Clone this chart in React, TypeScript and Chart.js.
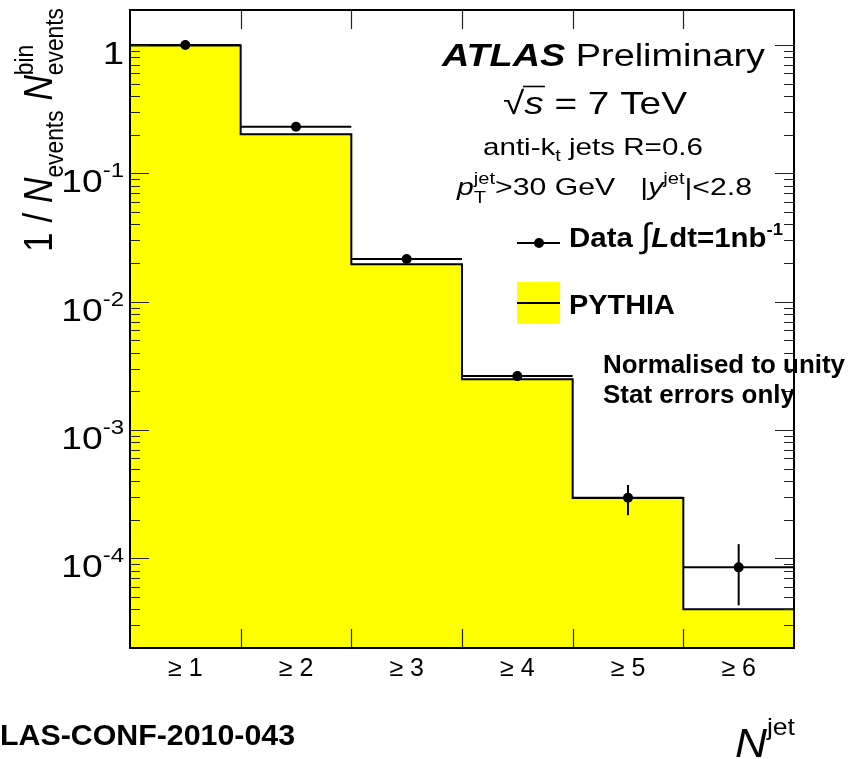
import React, { useEffect, useRef } from "react";
import { Chart, registerables } from "chart.js";

Chart.register(...registerables);

// ---------- data ----------
const categories = ["≥ 1", "≥ 2", "≥ 3", "≥ 4", "≥ 5", "≥ 6"];
const binEdges = [0, 1, 2, 3, 4, 5, 6];
const pythiaValues = [0.99, 0.202, 0.0196, 0.00249, 2.95e-4, 4.0e-5];
const dataValues = [1.0, 0.231, 0.0215, 0.00263, 2.96e-4, 8.5e-5];
const dataErrUp = [0.004, 0.003, 0.0006, 0.00015, 0.76e-4, 4.4e-5];
const dataErrDown = [0.004, 0.003, 0.0006, 0.00015, 0.79e-4, 4.2e-5];
const yMin = 2e-5;
const yMax = 1.875;
const yDecades = [0, -1, -2, -3, -4];

const FAMILY = '"Liberation Sans", Arial, Helvetica, sans-serif';
const YELLOW = "#ffff00";

type Seg = {
  t: string;
  size: number;
  bold?: boolean;
  italic?: boolean;
  dy?: number;
  adv?: boolean;
  over?: boolean;
};

function fontOf(s: Seg) {
  return `${s.italic ? "italic " : ""}${s.bold ? "bold " : ""}${s.size}px ${FAMILY}`;
}

function drawRich(
  ctx: CanvasRenderingContext2D,
  segs: Seg[],
  x: number,
  y: number,
  o: { width?: number; sx?: number; sy?: number; rot?: boolean; align?: string } = {}
) {
  ctx.save();
  ctx.translate(x, y);
  if (o.rot) ctx.rotate(-Math.PI / 2);
  const widths: number[] = [];
  let w = 0;
  let pend = 0;
  for (const s of segs) {
    ctx.font = fontOf(s);
    const m = ctx.measureText(s.t).width;
    widths.push(m);
    if (s.adv === false) pend = Math.max(pend, m);
    else {
      w += Math.max(m, pend);
      pend = 0;
    }
  }
  const sx = o.width ? o.width / w : o.sx ?? 1;
  ctx.scale(sx, o.sy ?? 1);
  let cx = o.align === "right" ? -w : o.align === "center" ? -w / 2 : 0;
  ctx.fillStyle = "#000";
  ctx.strokeStyle = "#000";
  ctx.textAlign = "left";
  ctx.textBaseline = "alphabetic";
  pend = 0;
  segs.forEach((s, i) => {
    ctx.font = fontOf(s);
    ctx.fillText(s.t, cx, s.dy ?? 0);
    if (s.over) {
      ctx.lineWidth = 1.6;
      ctx.beginPath();
      ctx.moveTo(cx - 1, -s.size * 0.86);
      ctx.lineTo(cx + widths[i] + 1, -s.size * 0.86);
      ctx.stroke();
    }
    if (s.adv === false) pend = Math.max(pend, widths[i]);
    else {
      cx += Math.max(widths[i], pend);
      pend = 0;
    }
  });
  ctx.restore();
}

const decorPlugin = {
  id: "atlasDecor",
  afterDatasetsDraw(chart: any) {
    const ctx: CanvasRenderingContext2D = chart.ctx;
    const xs = chart.scales.x;
    const ys = chart.scales.y;
    ctx.save();
    ctx.strokeStyle = "#000";
    ctx.lineWidth = 2;
    dataValues.forEach((v, i) => {
      const y = ys.getPixelForValue(v);
      const x0 = xs.getPixelForValue(binEdges[i]);
      const x1 = xs.getPixelForValue(binEdges[i + 1]);
      const xc = xs.getPixelForValue((binEdges[i] + binEdges[i + 1]) / 2);
      ctx.beginPath();
      ctx.moveTo(x0, y);
      ctx.lineTo(x1, y);
      ctx.stroke();
      const yu = ys.getPixelForValue(v + dataErrUp[i]);
      const yd = ys.getPixelForValue(v - dataErrDown[i]);
      ctx.beginPath();
      ctx.moveTo(xc, yu);
      ctx.lineTo(xc, yd);
      ctx.stroke();
    });
    ctx.restore();
  },
  afterDraw(chart: any) {
    const ctx: CanvasRenderingContext2D = chart.ctx;
    const xs = chart.scales.x;
    const ys = chart.scales.y;
    const a = chart.chartArea;
    ctx.save();
    // ticks
    ctx.strokeStyle = "#222";
    ctx.lineWidth = 1.2;
    for (let k = -5; k <= 0; k++) {
      for (let m = 1; m <= 9; m++) {
        const v = m * Math.pow(10, k);
        if (v < yMin || v > yMax) continue;
        const y = Math.round(ys.getPixelForValue(v)) + 0.5;
        const len = m === 1 ? 19 : 10;
        ctx.beginPath();
        ctx.moveTo(a.left, y);
        ctx.lineTo(a.left + len, y);
        ctx.moveTo(a.right, y);
        ctx.lineTo(a.right - len, y);
        ctx.stroke();
      }
    }
    for (let i = 1; i < binEdges.length - 1; i++) {
      const x = Math.round(xs.getPixelForValue(binEdges[i])) + 0.5;
      ctx.beginPath();
      ctx.moveTo(x, a.bottom);
      ctx.lineTo(x, a.bottom - 19);
      ctx.moveTo(x, a.top);
      ctx.lineTo(x, a.top + 19);
      ctx.stroke();
    }
    // frame
    ctx.strokeStyle = "#000";
    ctx.lineWidth = 2;
    ctx.strokeRect(a.left, a.top, a.right - a.left, a.bottom - a.top);

    // y tick labels
    yDecades.forEach((k) => {
      const y = ys.getPixelForValue(Math.pow(10, k));
      const segs: Seg[] =
        k === 0
          ? [{ t: "1", size: 32 }]
          : [
              { t: "10", size: 31 },
              { t: `${k}`, size: 20, dy: -15 },
            ];
      drawRich(ctx, segs, 124, y + 19, { sx: 1.2, align: "right" });
    });

    // y axis title
    drawRich(
      ctx,
      [
        { t: "1 / ", size: 34 },
        { t: "N", size: 34, italic: true },
        { t: "events", size: 22, dy: 9 },
        { t: " ", size: 34 },
        { t: "N", size: 34, italic: true },
        { t: "bin", size: 22, dy: -16, adv: false },
        { t: "events", size: 22, dy: 9 },
      ],
      52,
      252,
      { rot: true, width: 244, sy: 1.2 }
    );

    // header texts
    drawRich(
      ctx,
      [
        { t: "ATLAS", size: 31, bold: true, italic: true },
        { t: " ", size: 31 },
        { t: "Preliminary", size: 31 },
      ],
      442,
      66,
      { width: 323 }
    );
    drawRich(
      ctx,
      [
        { t: "√", size: 32 },
        { t: "s", size: 32, italic: true, over: true },
        { t: " = 7 TeV", size: 32 },
      ],
      503,
      114,
      { width: 184 }
    );
    drawRich(
      ctx,
      [
        { t: "anti-k", size: 24 },
        { t: "t", size: 16, dy: 6 },
        { t: " jets R=0.6", size: 24 },
      ],
      483,
      155,
      { width: 220 }
    );
    drawRich(
      ctx,
      [
        { t: "p", size: 24, italic: true },
        { t: "T", size: 16, dy: 8, adv: false },
        { t: "jet", size: 16, dy: -11 },
        { t: ">30 GeV   |", size: 24 },
        { t: "y", size: 24, italic: true },
        { t: "jet", size: 16, dy: -11 },
        { t: "|<2.8", size: 24 },
      ],
      457,
      195,
      { width: 295 }
    );

    // legend
    ctx.strokeStyle = "#000";
    ctx.lineWidth = 2;
    ctx.beginPath();
    ctx.moveTo(517, 243);
    ctx.lineTo(560, 243);
    ctx.stroke();
    ctx.fillStyle = "#000";
    ctx.beginPath();
    ctx.arc(539, 243, 5, 0, Math.PI * 2);
    ctx.fill();
    drawRich(
      ctx,
      [
        { t: "Data ", size: 27, bold: true },
        { t: "∫", size: 34 },
        { t: "L", size: 27, bold: true, italic: true },
        { t: "dt=1nb", size: 27, bold: true },
        { t: "-1", size: 17, bold: true, dy: -12 },
      ],
      569,
      247,
      { width: 214 }
    );
    ctx.fillStyle = YELLOW;
    ctx.fillRect(517, 282, 43, 42);
    ctx.strokeStyle = "#000";
    ctx.lineWidth = 2;
    ctx.beginPath();
    ctx.moveTo(517, 303);
    ctx.lineTo(560, 303);
    ctx.stroke();
    drawRich(ctx, [{ t: "PYTHIA", size: 27, bold: true }], 569, 314, { width: 106 });

    drawRich(ctx, [{ t: "Normalised to unity", size: 26, bold: true }], 603, 373, { width: 242 });
    drawRich(ctx, [{ t: "Stat errors only", size: 26, bold: true }], 603, 403, { width: 192 });

    drawRich(ctx, [{ t: "LAS-CONF-2010-043", size: 29, bold: true }], 0, 745, { width: 295 });

    drawRich(
      ctx,
      [
        { t: "N", size: 40, italic: true },
        { t: "jet", size: 24, dy: -22 },
      ],
      735,
      757,
      { width: 60 }
    );
    ctx.restore();
  },
};

export default function App() {
  const ref = useRef<HTMLCanvasElement | null>(null);
  useEffect(() => {
    const canvas = ref.current;
    if (!canvas) return;
    const histPoints = binEdges.map((e, i) => ({
      x: e,
      y: pythiaValues[Math.min(i, pythiaValues.length - 1)],
    }));
    const dataPoints = dataValues.map((v, i) => ({
      x: (binEdges[i] + binEdges[i + 1]) / 2,
      y: v,
    }));
    const chart = new Chart(canvas, {
      type: "line",
      data: {
        datasets: [
          {
            label: "Data",
            type: "scatter",
            data: dataPoints,
            order: 1,
            pointRadius: 5,
            pointBackgroundColor: "#000",
            pointBorderColor: "#000",
            pointBorderWidth: 0,
            showLine: false,
          } as any,
          {
            label: "PYTHIA",
            data: histPoints,
            order: 2,
            stepped: "before",
            fill: "start",
            backgroundColor: YELLOW,
            borderColor: "#000",
            borderWidth: 2,
            pointRadius: 0,
          } as any,
        ],
      },
      options: {
        animation: false,
        responsive: false,
        events: [],
        layout: { padding: { top: 10, right: 56, left: 0, bottom: 0 } },
        plugins: { legend: { display: false }, tooltip: { enabled: false } },
        scales: {
          x: {
            type: "linear",
            min: 0,
            max: 6,
            grid: { display: false },
            border: { display: false },
            afterBuildTicks: (s: any) => {
              s.ticks = categories.map((_, i) => ({ value: (binEdges[i] + binEdges[i + 1]) / 2 }));
            },
            afterFit: (s: any) => {
              s.height = 111;
            },
            ticks: {
              autoSkip: false,
              maxRotation: 0,
              padding: -2,
              color: "#000",
              font: { family: FAMILY, size: 25 },
              callback: (_v: any, i: number) => categories[i],
            },
          },
          y: {
            type: "logarithmic",
            min: yMin,
            max: yMax,
            grid: { display: false },
            border: { display: false },
            ticks: { display: false },
            afterFit: (s: any) => {
              s.width = 130;
            },
          },
        },
      } as any,
      plugins: [decorPlugin],
    });
    return () => chart.destroy();
  }, []);
  return (
    <div style={{ position: "absolute", left: 0, top: 0, width: 850, height: 759, background: "#fff" }}>
      <canvas ref={ref} width={850} height={759} style={{ display: "block" }} />
    </div>
  );
}
